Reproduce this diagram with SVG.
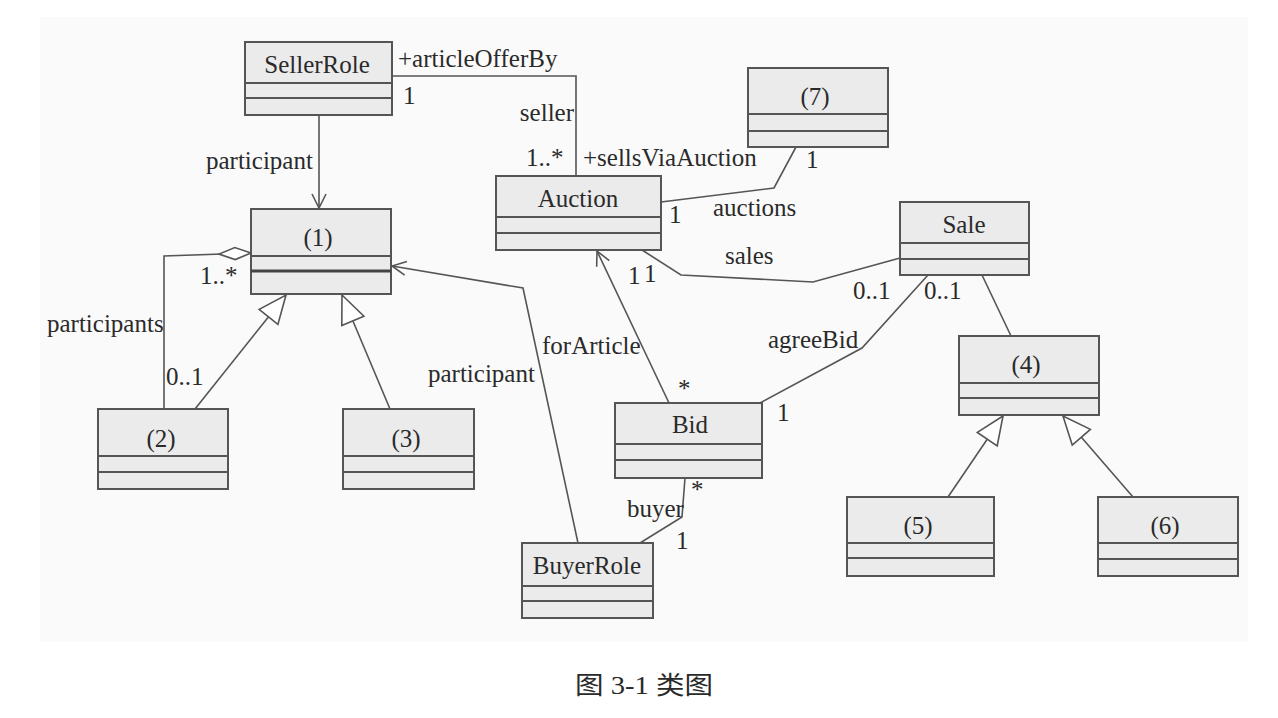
<svg xmlns="http://www.w3.org/2000/svg" width="1278" height="718" viewBox="0 0 1278 718">
<style>
.box{fill:#ebebeb;stroke:#555;stroke-width:2}
.div{stroke:#555;stroke-width:2}
.name{font-family:"Liberation Serif","Times New Roman",serif;font-size:25px;fill:#2a2a2a;text-anchor:middle}
.lbl{font-family:"Liberation Serif","Times New Roman",serif;font-size:25px;fill:#2a2a2a}
.conn{fill:none;stroke:#555;stroke-width:1.6}
</style>
<defs>
<marker id="openArrow" markerUnits="userSpaceOnUse" markerWidth="16" markerHeight="18" refX="15" refY="9" orient="auto">
<path d="M1,2 L15,9 L1,16" fill="none" stroke="#555" stroke-width="1.6"/>
</marker>
<marker id="genTri" markerUnits="userSpaceOnUse" markerWidth="32" markerHeight="28" refX="30" refY="14" orient="auto">
<path d="M2,2 L30,14 L2,26 Z" fill="#fff" stroke="#555" stroke-width="1.6"/>
</marker>
<marker id="aggDia" markerUnits="userSpaceOnUse" markerWidth="36" markerHeight="16" refX="1" refY="8" orient="auto">
<path d="M1,8 L17,2 L33,8 L17,14 Z" fill="#fff" stroke="#555" stroke-width="1.6"/>
</marker>
</defs>
<rect x="0" y="0" width="1278" height="718" fill="#fff"/>
<rect x="40" y="17" width="1208" height="625" fill="#fafafa"/>

<g id="connectors">
<polyline class="conn" points="392,76 576,76 576,176"/>
<line class="conn" x1="319" y1="115" x2="319" y2="208" marker-end="url(#openArrow)"/>
<polyline class="conn" points="796,147 774,188 661,202"/>
<polyline class="conn" points="642,250 681,275 813,282 900,258"/>
<line class="conn" x1="669" y1="403" x2="597" y2="251" marker-end="url(#openArrow)"/>
<polyline class="conn" points="760,403 862,348 928,275"/>
<polyline class="conn" points="685,478 682,517 640,543"/>
<polyline class="conn" points="578,543 523,288 392,266" marker-end="url(#openArrow)"/>
<polyline class="conn" points="251,253 164,256 164,409" marker-start="url(#aggDia)"/>
<line class="conn" x1="195" y1="409" x2="286" y2="295" marker-end="url(#genTri)"/>
<line class="conn" x1="390" y1="409" x2="342" y2="295" marker-end="url(#genTri)"/>
<line class="conn" x1="982" y1="275" x2="1011" y2="336"/>
<line class="conn" x1="948" y1="497" x2="1003" y2="416" marker-end="url(#genTri)"/>
<line class="conn" x1="1133" y1="497" x2="1063" y2="416" marker-end="url(#genTri)"/>

<text class="lbl" x="398" y="67">+articleOfferBy</text>
<text class="lbl" x="403" y="104">1</text>
<text class="lbl" x="574" y="121" text-anchor="end">seller</text>
<text class="lbl" x="526" y="166">1..*</text>
<text class="lbl" x="583" y="166">+sellsViaAuction</text>
<text class="lbl" x="206" y="169">participant</text>
<text class="lbl" x="806" y="168">1</text>
<text class="lbl" x="713" y="216">auctions</text>
<text class="lbl" x="669" y="223">1</text>
<text class="lbl" x="725" y="264">sales</text>
<text class="lbl" x="628" y="284">1</text>
<text class="lbl" x="644" y="282">1</text>
<text class="lbl" x="853" y="299">0..1</text>
<text class="lbl" x="924" y="299">0..1</text>
<text class="lbl" x="768" y="348">agreeBid</text>
<text class="lbl" x="542" y="354">forArticle</text>
<text class="lbl" x="678" y="397">*</text>
<text class="lbl" x="777" y="421">1</text>
<text class="lbl" x="428" y="382">participant</text>
<text class="lbl" x="47" y="332">participants</text>
<text class="lbl" x="200" y="284">1..*</text>
<text class="lbl" x="166" y="385">0..1</text>
<text class="lbl" x="627" y="517">buyer</text>
<text class="lbl" x="691" y="498">*</text>
<text class="lbl" x="676" y="549">1</text>
</g>

<g id="SellerRole">
<rect class="box" x="245" y="42" width="147" height="73"/>
<line class="div" x1="245" y1="83" x2="392" y2="83"/>
<line class="div" x1="245" y1="98" x2="392" y2="98"/>
<text class="name" x="317" y="73">SellerRole</text>
</g>
<g id="Auction">
<rect class="box" x="496" y="176" width="165" height="74"/>
<line class="div" x1="496" y1="217" x2="661" y2="217"/>
<line class="div" x1="496" y1="233" x2="661" y2="233"/>
<text class="name" x="578" y="207">Auction</text>
</g>
<g id="n7">
<rect class="box" x="748" y="68" width="140" height="79"/>
<line class="div" x1="748" y1="114" x2="888" y2="114"/>
<line class="div" x1="748" y1="131" x2="888" y2="131"/>
<text class="name" x="815" y="105">(7)</text>
</g>
<g id="n1">
<rect class="box" x="251" y="209" width="140" height="85"/>
<line class="div" x1="251" y1="256" x2="391" y2="256"/>
<line x1="251" y1="271" x2="391" y2="271" stroke="#444" stroke-width="3"/>
<text class="name" x="318" y="246">(1)</text>
</g>
<g id="Sale">
<rect class="box" x="900" y="202" width="129" height="73"/>
<line class="div" x1="900" y1="243" x2="1029" y2="243"/>
<line class="div" x1="900" y1="259" x2="1029" y2="259"/>
<text class="name" x="964" y="233">Sale</text>
</g>
<g id="n4">
<rect class="box" x="959" y="336" width="140" height="79"/>
<line class="div" x1="959" y1="383" x2="1099" y2="383"/>
<line class="div" x1="959" y1="398" x2="1099" y2="398"/>
<text class="name" x="1026" y="373">(4)</text>
</g>
<g id="n2">
<rect class="box" x="98" y="409" width="130" height="80"/>
<line class="div" x1="98" y1="456" x2="228" y2="456"/>
<line class="div" x1="98" y1="472" x2="228" y2="472"/>
<text class="name" x="161" y="447">(2)</text>
</g>
<g id="n3">
<rect class="box" x="343" y="409" width="131" height="80"/>
<line class="div" x1="343" y1="456" x2="474" y2="456"/>
<line class="div" x1="343" y1="472" x2="474" y2="472"/>
<text class="name" x="406" y="447">(3)</text>
</g>
<g id="Bid">
<rect class="box" x="615" y="403" width="147" height="75"/>
<line class="div" x1="615" y1="444" x2="762" y2="444"/>
<line class="div" x1="615" y1="460" x2="762" y2="460"/>
<text class="name" x="690" y="433">Bid</text>
</g>
<g id="n5">
<rect class="box" x="847" y="497" width="147" height="79"/>
<line class="div" x1="847" y1="543" x2="994" y2="543"/>
<line class="div" x1="847" y1="558" x2="994" y2="558"/>
<text class="name" x="918" y="534">(5)</text>
</g>
<g id="n6">
<rect class="box" x="1098" y="497" width="140" height="79"/>
<line class="div" x1="1098" y1="543" x2="1238" y2="543"/>
<line class="div" x1="1098" y1="559" x2="1238" y2="559"/>
<text class="name" x="1165" y="534">(6)</text>
</g>
<g id="BuyerRole">
<rect class="box" x="522" y="543" width="131" height="75"/>
<line class="div" x1="522" y1="586" x2="653" y2="586"/>
<line class="div" x1="522" y1="601" x2="653" y2="601"/>
<text class="name" x="587" y="574">BuyerRole</text>
</g>
<text x="644" y="694" text-anchor="middle" font-family="'Liberation Serif','Noto Sans CJK SC',serif" font-size="25" fill="#2a2a2a" textLength="138" lengthAdjust="spacingAndGlyphs">图 3-1 类图</text>
</svg>
